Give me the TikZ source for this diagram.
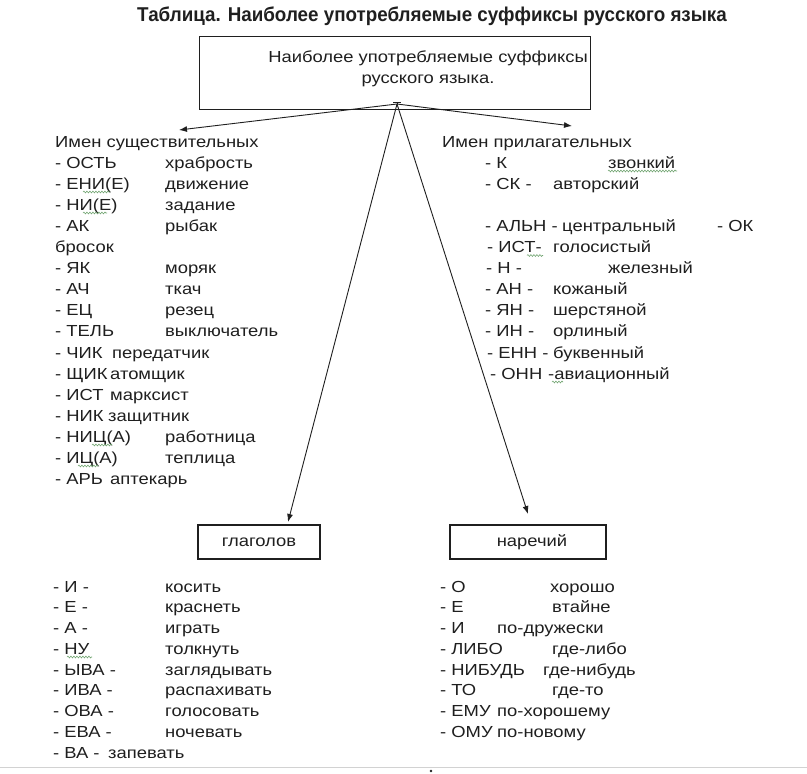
\documentclass[tikz,border=0pt]{standalone}
\usepackage{fontspec}
\setmainfont{Liberation Sans}[FakeStretch=1.15]
\newfontfamily\ttlfont{Liberation Sans}[FakeStretch=0.94]
\usetikzlibrary{arrows.meta,decorations.pathmorphing,calc}
\definecolor{ink}{gray}{0.12}
\definecolor{squigc}{rgb}{0.45,0.65,0.45}
\begin{document}
\begin{tikzpicture}[x=1pt,y=-1pt,
  txt/.style={anchor=base west,inner sep=0pt,text=ink,font=\fontsize{16}{16}\selectfont},
  boxnode/.style={draw=ink,line width=1.1pt,inner sep=0pt,text=ink,font=\fontsize{16}{21}\selectfont},
  conn/.style={draw=ink,line width=0.9pt,-{Latex[length=8pt,width=6pt]}},
  squig/.style={draw=squigc,line width=0.6pt,decorate,decoration={snake,amplitude=0.9pt,segment length=3pt}}]
\useasboundingbox (0,0) rectangle (807,774);
\fill[white] (0,0) rectangle (807,774);

% title
\node[anchor=base,inner sep=0pt,text=ink,font=\ttlfont\bfseries\fontsize{20}{20}\selectfont] (title) at (432,21.5) {Таблица. Наиболее употребляемые суффиксы русского языка};

% top box
\node[boxnode,minimum width=391pt,minimum height=73pt,anchor=north west] (top) at (199,36) {};
\node[txt,anchor=base] (toptxt1) at (428,62) {Наиболее употребляемые суффиксы};
\node[txt,anchor=base] (toptxt2) at (428,83) {русского языка.};

% sub boxes
\node[boxnode,minimum width=122pt,minimum height=34pt] (gl) at (259,542) {глаголов};
\node[boxnode,minimum width=156pt,minimum height=34pt] (nar) at (528,542) {\hspace*{8pt}наречий};

% connectors
\coordinate (o) at (397,104);
\coordinate (tl) at (179,130);
\coordinate (tr) at (572,126);
\coordinate (tg) at (288,522);
\coordinate (tn) at (528,514);
\draw[conn] (o) -- (tl);
\draw[conn] (o) -- (tr);
\draw[conn] (o) -- (tg);
\draw[conn] (o) -- (tn);
\draw[ink,line width=0.8pt] (393,102) -- (401,102) (o) -- ++(0,-2);

% left column
\node[txt] (n0) at (55,147) {Имен существительных};
\node[txt] (n1) at (55,168.1) {- ОСТЬ};   \node[txt] (n1w) at (165,168.1) {храбрость};
\node[txt] (n2) at (55,189.2) {- ЕНИ(Е)}; \node[txt] (n2w) at (165,189.2) {движение};
\node[txt] (n3) at (55,210.3) {- НИ(Е)};  \node[txt] (n3w) at (165,210.3) {задание};
\node[txt] (n4) at (55,231.4) {- АК};     \node[txt] (n4w) at (165,231.4) {рыбак};
\node[txt] (n5) at (55,252.5) {бросок};
\node[txt] (n6) at (55,273.6) {- ЯК};     \node[txt] (n6w) at (165,273.6) {моряк};
\node[txt] (n7) at (55,294.7) {- АЧ};     \node[txt] (n7w) at (165,294.7) {ткач};
\node[txt] (n8) at (55,315.8) {- ЕЦ};     \node[txt] (n8w) at (165,315.8) {резец};
\node[txt] (n9) at (55,336.9) {- ТЕЛЬ};   \node[txt] (n9w) at (165,336.9) {выключатель};
\node[txt] (n10) at (55,358) {- ЧИК};     \node[txt] (n10w) at (112,358) {передатчик};
\node[txt] (n11) at (55,379.1) {- ЩИК};   \node[txt] (n11w) at (110,379.1) {атомщик};
\node[txt] (n12) at (55,400.2) {- ИСТ};   \node[txt] (n12w) at (110,400.2) {марксист};
\node[txt] (n13) at (55,421.3) {- НИК};   \node[txt] (n13w) at (108,421.3) {защитник};
\node[txt] (n14) at (55,442.4) {- НИЦ(А)}; \node[txt] (n14w) at (165,442.4) {работница};
\node[txt] (n15) at (55,463.5) {- ИЦ(А)};  \node[txt] (n15w) at (165,463.5) {теплица};
\node[txt] (n16) at (55,484.6) {- АРЬ};    \node[txt] (n16w) at (110,484.6) {аптекарь};

% right column
\node[txt] (r0) at (442,147) {Имен прилагательных};
\node[txt] (r1) at (485,168.1) {- К};      \node[txt] (r1w) at (608,168.1) {звонкий};
\node[txt] (r2) at (485,189.2) {- СК -};   \node[txt] (r2w) at (553,189.2) {авторский};
\node[txt] (r4) at (485,231.4) {- АЛЬН -}; \node[txt] (r4w) at (562,231.4) {центральный};
\node[txt] (r4b) at (717,231.4) {- ОК};
\node[txt] (r5) at (487,252.5) {- ИСТ-};   \node[txt] (r5w) at (553,252.5) {голосистый};
\node[txt] (r6) at (486,273.6) {- Н -};    \node[txt] (r6w) at (608,273.6) {железный};
\node[txt] (r7) at (485,294.7) {- АН -};   \node[txt] (r7w) at (553,294.7) {кожаный};
\node[txt] (r8) at (485,315.8) {- ЯН -};   \node[txt] (r8w) at (553,315.8) {шерстяной};
\node[txt] (r9) at (485,336.9) {- ИН -};   \node[txt] (r9w) at (553,336.9) {орлиный};
\node[txt] (r10) at (487,358) {- ЕНН -};   \node[txt] (r10w) at (553,358) {буквенный};
\node[txt] (r11) at (490,379.1) {- ОНН};   \node[txt] (r11w) at (548,379.1) {-авиационный};

% verbs
\node[txt] (g0) at (53,592) {- И -};     \node[txt] (g0w) at (165,592) {косить};
\node[txt] (g1) at (53,612.75) {- Е -};  \node[txt] (g1w) at (165,612.75) {краснеть};
\node[txt] (g2) at (53,633.5) {- А -};   \node[txt] (g2w) at (165,633.5) {играть};
\node[txt] (g3) at (53,654.25) {- НУ};   \node[txt] (g3w) at (165,654.25) {толкнуть};
\node[txt] (g4) at (53,675) {- ЫВА -};   \node[txt] (g4w) at (165,675) {заглядывать};
\node[txt] (g5) at (53,695.75) {- ИВА -}; \node[txt] (g5w) at (165,695.75) {распахивать};
\node[txt] (g6) at (53,716.5) {- ОВА -};  \node[txt] (g6w) at (165,716.5) {голосовать};
\node[txt] (g7) at (53,737.25) {- ЕВА -}; \node[txt] (g7w) at (165,737.25) {ночевать};
\node[txt] (g8) at (53,758) {- ВА -};     \node[txt] (g8w) at (108,758) {запевать};

% adverbs
\node[txt] (a0) at (440,592) {- О};        \node[txt] (a0w) at (550,592) {хорошо};
\node[txt] (a1) at (440,612.75) {- Е};     \node[txt] (a1w) at (552,612.75) {втайне};
\node[txt] (a2) at (440,633.5) {- И};      \node[txt] (a2w) at (497,633.5) {по-дружески};
\node[txt] (a3) at (440,654.25) {- ЛИБО};  \node[txt] (a3w) at (552,654.25) {где-либо};
\node[txt] (a4) at (440,675) {- НИБУДЬ};   \node[txt] (a4w) at (543,675) {где-нибудь};
\node[txt] (a5) at (440,695.75) {- ТО};    \node[txt] (a5w) at (552,695.75) {где-то};
\node[txt] (a6) at (440,716.5) {- ЕМУ};    \node[txt] (a6w) at (497,716.5) {по-хорошему};
\node[txt] (a7) at (440,737.25) {- ОМУ};   \node[txt] (a7w) at (497,737.25) {по-новому};

% spell-check squiggles
\draw[squig] (83,192) -- (110,192);
\draw[squig] (83,213) -- (107,213);
\draw[squig] (92,445) -- (112,445);
\draw[squig] (78,466) -- (98,466);
\draw[squig] (608,171) -- (677,171);
\draw[squig] (527,255.5) -- (543,255.5);
\draw[squig] (552,382) -- (563,382);
\draw[squig] (67,657) -- (92,657);

% bottom rule and dot
\draw[gray!35,line width=1pt] (0,767) -- (807,767);
\fill[ink] (431,771) circle (1.3);
\end{tikzpicture}
\end{document}
